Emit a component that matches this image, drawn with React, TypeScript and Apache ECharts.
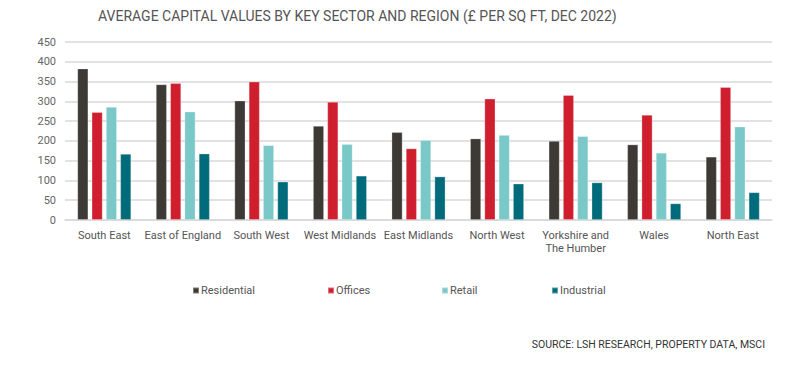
import React, { useEffect, useRef } from "react";
import * as echarts from "echarts";

const categories = [
  "South East",
  "East of England",
  "South West",
  "West Midlands",
  "East Midlands",
  "North West",
  "Yorkshire and\nThe Humber",
  "Wales",
  "North East",
];
const seriesNames = ["Residential", "Offices", "Retail", "Industrial"];
const residential = [383, 343, 302, 238, 222, 206, 200, 191, 160];
const offices = [273, 346, 350, 299, 181, 307, 316, 266, 336];
const retail = [286, 274, 189, 192, 202, 215, 212, 170, 236];
const industrial = [167, 168, 97, 112, 110, 92, 95, 42, 70];
const yTicks = { min: 0, max: 450, interval: 50 };

const FONT = "Roboto";
const legendLefts = [192, 327, 441, 551];

export default function App() {
  const ref = useRef<HTMLDivElement>(null);
  useEffect(() => {
    if (!ref.current) return;
    const chart = echarts.init(ref.current, undefined, { renderer: "svg" });
    const mk = (name: string, data: number[], color: string) => ({
      name,
      type: "bar",
      data,
      barWidth: 11,
      barGap: "30%",
      itemStyle: { color, borderColor: "rgba(255,255,255,0.35)", borderWidth: 0.8 },
    });
    chart.setOption({
      animation: false,
      backgroundColor: "#ffffff",
      textStyle: { fontFamily: FONT },
      grid: { left: 65, right: 29, top: 42, bottom: 156, containLabel: false },
      xAxis: {
        type: "category",
        data: categories,
        axisTick: { show: false },
        axisLine: { lineStyle: { color: "#d9d9d9", width: 1.5 } },
        axisLabel: {
          interval: 0,
          color: "#555",
          fontSize: 11,
          fontFamily: FONT,
          margin: 9,
          lineHeight: 13,
        },
      },
      yAxis: {
        type: "value",
        min: yTicks.min,
        max: yTicks.max,
        interval: yTicks.interval,
        axisLine: { show: false },
        axisTick: { show: false },
        splitLine: { lineStyle: { color: "#d9d9d9", width: 1.5 } },
        axisLabel: { color: "#666", fontSize: 11, fontFamily: FONT, margin: 9 },
      },
      legend: seriesNames.map((n, i) => ({
        left: legendLefts[i],
        top: 285,
        padding: 0,
        itemWidth: 6,
        itemHeight: 6,
        icon: "rect",
        textStyle: { color: "#555", fontSize: 11, fontFamily: FONT, padding: [0, 0, 0, -3] },
        data: [n],
      })),
      graphic: [
        {
          type: "text",
          left: 98,
          top: 9,
          style: {
            text: "AVERAGE CAPITAL VALUES BY KEY SECTOR AND REGION (£ PER SQ FT, DEC 2022)",
            fill: "#555",
            font: `14px ${FONT}`,
          },
        },
        {
          type: "text",
          right: 36,
          top: 339,
          style: {
            text: "SOURCE: LSH RESEARCH, PROPERTY DATA, MSCI",
            fill: "#333",
            font: `10.5px ${FONT}`,
          },
        },
      ],
      series: [
        mk(seriesNames[0], residential, "#3d3935"),
        mk(seriesNames[1], offices, "#cf1f2e"),
        mk(seriesNames[2], retail, "#7bc8c9"),
        mk(seriesNames[3], industrial, "#006b7a"),
      ],
    });
    return () => chart.dispose();
  }, []);
  return <div ref={ref} style={{ width: 801, height: 376, position: "absolute", left: 0, top: 0 }} />;
}
